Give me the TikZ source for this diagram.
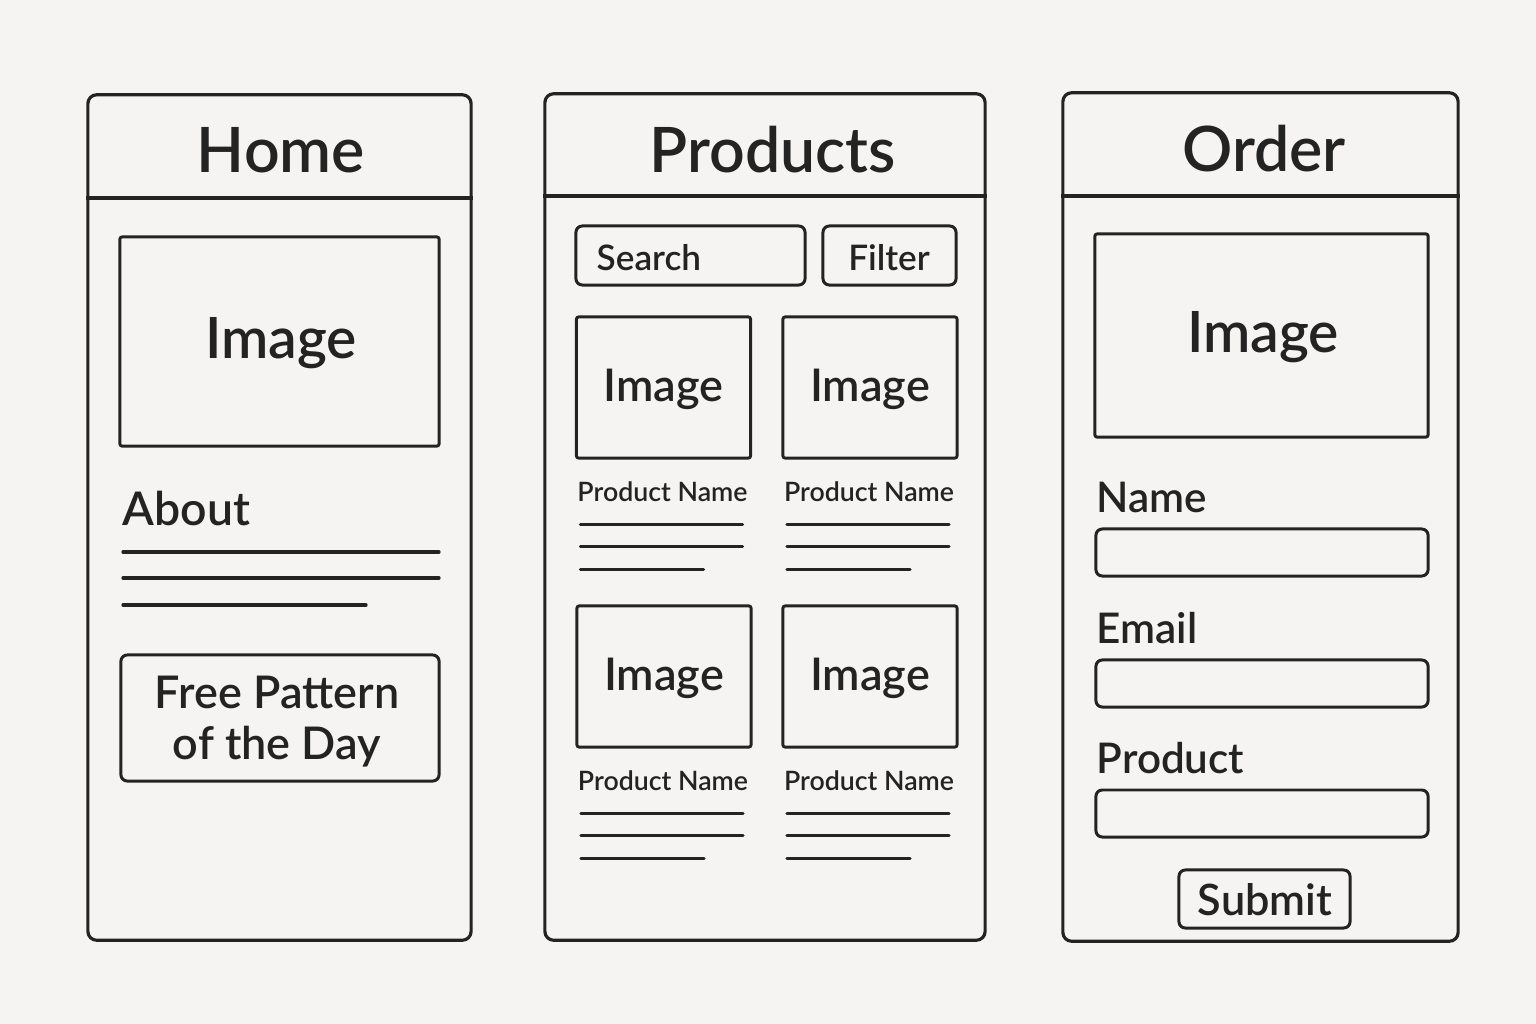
\documentclass[tikz,border=0pt]{standalone}
\usepackage{fontspec}
\setmainfont{Lato Semibold}
\usetikzlibrary{positioning}
\definecolor{paper}{HTML}{F5F4F2}
\definecolor{ink}{HTML}{232323}

\begin{document}
\begin{tikzpicture}[x=0.01cm,y=-0.01cm,line join=round]
		\tikzstyle{panel}=[draw=ink, line width=0.9pt, rounded corners=2.5pt]
		\tikzstyle{imgbox}=[draw=ink, line width=0.85pt, rounded corners=0.6pt]
		\tikzstyle{field}=[draw=ink, line width=0.85pt, rounded corners=1.8pt]
		\tikzstyle{textline}=[draw=ink, line width=0.95pt, line cap=round]
		\tikzstyle{caption}=[anchor=base, inner sep=0pt, text=ink]
		\tikzstyle{title}=[caption, font=\fontsize{17.8}{22}\selectfont]
		\tikzstyle{label}=[caption, anchor=base west, font=\fontsize{13.2}{16}\selectfont]

		\fill[paper] (0,0) rectangle (1536,1024);

		% three screens
		\node [panel, minimum width=3.83cm, minimum height=8.45cm] (home) at (279.5,517.5) {};
		\node [panel, minimum width=4.40cm, minimum height=8.46cm] (products) at (765,517) {};
		\node [panel, minimum width=3.95cm, minimum height=8.48cm] (order) at (1260.5,517) {};
		\draw [panel] (home.west |- 0,198) -- (home.east |- 0,198);
		\draw [panel] (products.west |- 0,196) -- (products.east |- 0,196);
		\draw [panel] (order.west |- 0,196) -- (order.east |- 0,196);
		\node [title] (homet) at (281,172) {Home};
		\node [title] (prodt) at (773,172) {Products};
		\node [title] (ordert) at (1264,171) {Order};

		% home
		\node [imgbox, minimum width=3.19cm, minimum height=2.09cm] (himg) at (279.5,341.5) {};
		\node [caption, font=\fontsize{16.2}{19}\selectfont] at (281,358) {Image};
		\node [label] (about) at (122,525) {About};
		\foreach \y/\x in {552/439, 578/439, 605/366}
			\draw [textline] (123,\y) -- (\x,\y);
		\node [field, minimum width=3.18cm, minimum height=1.26cm] (free) at (280,718) {};
		\node [caption, align=center, font=\fontsize{12.8}{14.5}\selectfont] at (277,759) {Free Pattern\\of the Day};

		% products
		\node [field, minimum width=2.29cm, minimum height=0.59cm] (search) at (690.5,255.5) {};
		\node [field, minimum width=1.33cm, minimum height=0.59cm] (filter) at (889.5,255.5) {};
		\node [caption, anchor=base west, font=\fontsize{10}{12}\selectfont] at (596,270) {Search};
		\node [caption, font=\fontsize{10}{12}\selectfont] at (889,270) {Filter};
		\foreach \cx/\cy/\nm in {663.5/387.5/pa, 870/387.5/pb, 664/676.5/pc, 870/676.5/pd}{
			\node [imgbox, minimum width=1.74cm, minimum height=1.41cm] (\nm) at (\cx,\cy) {};
			\node [caption, font=\fontsize{12.8}{16}\selectfont] at (\cx,\cy+13.5) {Image};
			\node [caption, font=\fontsize{7.6}{10}\selectfont] at (\cx-1,\cy+114) {Product Name};
			\foreach \dy/\len in {137/162, 159/162, 182/123}
				\draw [textline] (\cx-83,\cy+\dy) -- (\cx-83+\len,\cy+\dy);
		}

		% order
		\node [imgbox, minimum width=3.33cm, minimum height=2.03cm] (oimg) at (1261.5,335.5) {};
		\node [caption, font=\fontsize{16.2}{19}\selectfont] at (1263,352) {Image};
		\foreach \ly/\fy/\txt/\nm in {512/552.5/Name/fname, 643/683.5/Email/femail, 773/813.5/Product/fprod}{
			\node [label, font=\fontsize{12}{15}\selectfont] at (1096,\ly) {\txt};
			\node [field, minimum width=3.32cm, minimum height=0.47cm] (\nm) at (1262,\fy) {};
		}
		\node [field, minimum width=1.71cm, minimum height=0.58cm] (submit) at (1264.5,899) {};
		\node [caption, font=\fontsize{12.3}{15}\selectfont] at (1265,915) {Submit};
	\end{tikzpicture}
\end{document}
